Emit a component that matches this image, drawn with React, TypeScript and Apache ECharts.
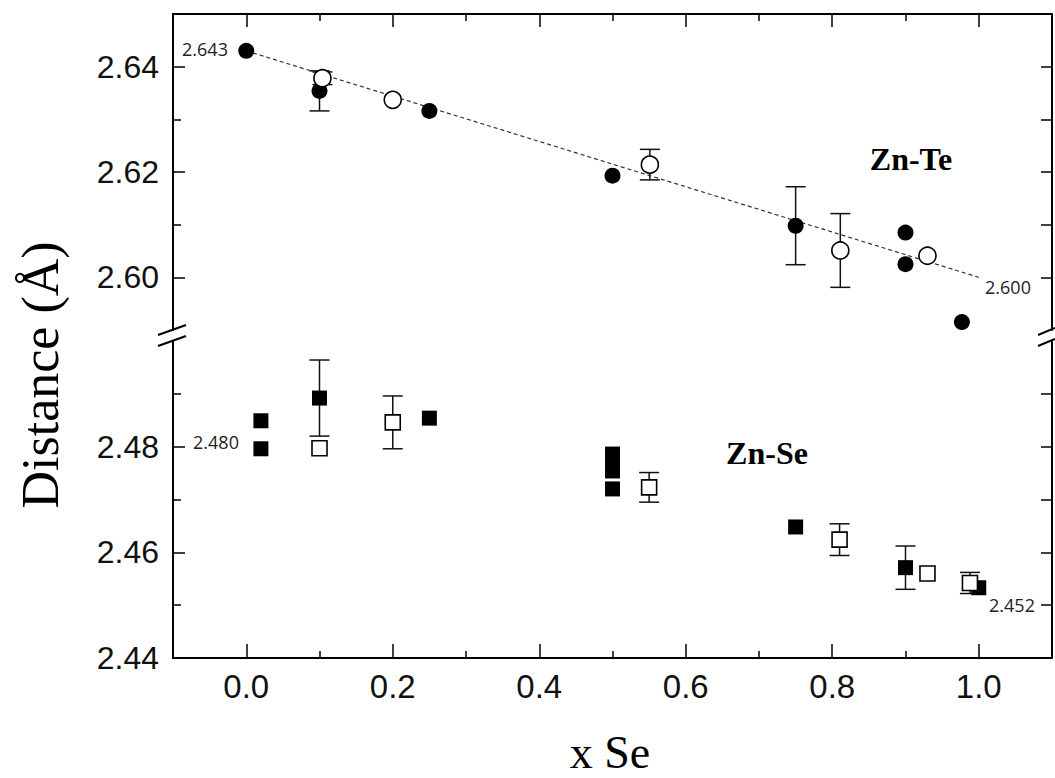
import React, { useEffect, useRef } from "react";
import * as echarts from "echarts";

// ---------- axis ticks ----------
const xTicksMajor = [0, 0.2, 0.4, 0.6, 0.8, 1.0];
const xTicksMinor = [0.1, 0.3, 0.5, 0.7, 0.9];
const teLabelTicks = [2.6, 2.62, 2.64];
const teMinorTicks = [2.61, 2.63];
const teAllTicks = [2.6, 2.61, 2.62, 2.63, 2.64];
const seLabelTicks = [2.44, 2.46, 2.48];
const seMinorTicks = [2.45, 2.47, 2.49];
const seAllTicks = [2.45, 2.46, 2.47, 2.48, 2.49];

// ---------- Zn-Te (upper panel) ----------
const teFilledX = [0, 0.1, 0.25, 0.5, 0.75, 0.9, 0.9, 0.977];
const teFilledY = [2.643, 2.6354, 2.6316, 2.6193, 2.6098, 2.6085, 2.6025, 2.5915];
const teOpenX = [0.104, 0.2, 0.551, 0.811, 0.93];
const teOpenY = [2.6378, 2.6337, 2.6214, 2.6051, 2.6041];
const teFitX = [0, 1.0];
const teFitY = [2.643, 2.6];
const teErrX = [0.1, 0.104, 0.551, 0.75, 0.811];
const teErrY = [2.6354, 2.6378, 2.6214, 2.6098, 2.6051];
const teErrD = [0.0038, 0.0012, 0.0029, 0.0074, 0.007];

// ---------- Zn-Se (lower panel) ----------
const seFilledX = [0.02, 0.02, 0.1, 0.25, 0.5, 0.5, 0.5, 0.5, 0.75, 0.9, 1.0];
const seFilledY = [2.4849, 2.4796, 2.4892, 2.4854, 2.4786, 2.4771, 2.4754, 2.472, 2.4648, 2.4571, 2.4533];
const seOpenX = [0.1, 0.2, 0.55, 0.81, 0.93, 0.988];
const seOpenY = [2.4797, 2.4846, 2.4723, 2.4624, 2.456, 2.4542];
const seErrX = [0.1, 0.2, 0.55, 0.81, 0.9, 0.988];
const seErrY = [2.4892, 2.4846, 2.4723, 2.4624, 2.4571, 2.4542];
const seErrD = [0.0072, 0.005, 0.0028, 0.003, 0.0041, 0.002];

// annotation texts
const annotations = ["2.643", "2.600", "2.480", "2.452"];

const zip = (xs: number[], ys: number[]) => xs.map((x, i) => [x, ys[i]]);

const errorSeries = (xs: number[], ys: number[], ds: number[], ai: number, yi: number) => ({
  type: "custom",
  xAxisIndex: ai,
  yAxisIndex: yi,
  silent: true,
  clip: false,
  z: 1,
  encode: { x: 0, y: [1, 2] },
  data: xs.map((x, i) => [x, ys[i] - ds[i], ys[i] + ds[i]]),
  renderItem: (_p: any, api: any) => {
    const x = api.value(0);
    const lo = api.coord([x, api.value(1)]);
    const hi = api.coord([x, api.value(2)]);
    const w = 10;
    const style = { stroke: "#111", lineWidth: 1.5 };
    return {
      type: "group",
      children: [
        { type: "line", shape: { x1: lo[0], y1: lo[1], x2: hi[0], y2: hi[1] }, style },
        { type: "line", shape: { x1: lo[0] - w, y1: lo[1], x2: lo[0] + w, y2: lo[1] }, style },
        { type: "line", shape: { x1: hi[0] - w, y1: hi[1], x2: hi[0] + w, y2: hi[1] }, style },
      ],
    };
  },
});

const AX = { color: "#000", width: 2 };
const TICK = { color: "#000", width: 1.5 };

const xAxisBase = (grid: number, position: string, ticks: number[], len: number, showLine: boolean, labels: boolean) => ({
  type: "value",
  gridIndex: grid,
  position,
  min: -0.1,
  max: 1.1,
  splitLine: { show: false },
  axisLine: { show: showLine, onZero: false, lineStyle: AX },
  axisTick: { show: true, inside: true, length: len, customValues: ticks, lineStyle: TICK },
  axisLabel: labels
    ? {
        show: true,
        customValues: ticks,
        formatter: (v: number) => v.toFixed(1),
        fontFamily: "Liberation Sans, Arial, sans-serif",
        fontSize: 33,
        color: "#111",
        margin: 12,
      }
    : { show: false },
});

const yAxisBase = (grid: number, position: string, min: number, max: number, ticks: number[], len: number, showLine: boolean, labels: boolean) => ({
  type: "value",
  gridIndex: grid,
  position,
  min,
  max,
  splitLine: { show: false },
  axisLine: { show: showLine, onZero: false, lineStyle: AX },
  axisTick: { show: true, inside: true, length: len, customValues: ticks, lineStyle: TICK },
  axisLabel: labels
    ? {
        show: true,
        customValues: ticks,
        formatter: (v: number) => v.toFixed(2),
        fontFamily: "Liberation Sans, Arial, sans-serif",
        fontSize: 32,
        color: "#111",
        margin: 14,
      }
    : { show: false },
});

const filled = (xs: number[], ys: number[], symbol: string, size: number, ai: number, yi: number) => ({
  type: "scatter",
  xAxisIndex: ai,
  yAxisIndex: yi,
  symbol,
  symbolSize: size,
  z: 3,
  itemStyle: { color: "#000", opacity: 1 },
  data: zip(xs, ys),
});

const open = (xs: number[], ys: number[], symbol: string, size: number, ai: number, yi: number) => ({
  type: "scatter",
  xAxisIndex: ai,
  yAxisIndex: yi,
  symbol,
  symbolSize: size,
  z: 3,
  itemStyle: { color: "#fff", borderColor: "#000", borderWidth: 1.6, opacity: 1 },
  data: zip(xs, ys),
});

const annStyle = { fontFamily: "Open Sans, Noto Sans, sans-serif", fontSize: 18, fill: "#222", align: "center", verticalAlign: "middle" };

export default function App() {
  const ref = useRef<HTMLDivElement>(null);
  useEffect(() => {
    if (!ref.current) return;
    const chart = echarts.init(ref.current, null, { renderer: "svg" });
    const slash = (x1: number, y1: number, x2: number, y2: number) => ({
      type: "line",
      shape: { x1, y1, x2, y2 },
      style: { stroke: "#000", lineWidth: 2 },
      z: 10,
    });
    chart.setOption({
      animation: false,
      backgroundColor: "#fff",
      grid: [
        { left: 173, right: 3, top: 14, height: 316 },
        { left: 173, right: 3, top: 341, height: 317 },
      ],
      xAxis: [
        xAxisBase(0, "top", xTicksMajor, 13, true, false),
        xAxisBase(0, "top", xTicksMinor, 7, false, false),
        xAxisBase(1, "bottom", xTicksMajor, 14, true, true),
        xAxisBase(1, "bottom", xTicksMinor, 7, false, false),
      ],
      yAxis: [
        yAxisBase(0, "left", 2.59, 2.65, teLabelTicks, 12, true, true),
        yAxisBase(0, "left", 2.59, 2.65, teMinorTicks, 8, false, false),
        yAxisBase(0, "right", 2.59, 2.65, teAllTicks, 11, true, false),
        yAxisBase(1, "left", 2.44, 2.5, seLabelTicks, 12, true, true),
        yAxisBase(1, "left", 2.44, 2.5, seMinorTicks, 8, false, false),
        yAxisBase(1, "right", 2.44, 2.5, seAllTicks, 11, true, false),
      ],
      series: [
        {
          type: "line",
          xAxisIndex: 0,
          yAxisIndex: 0,
          symbol: "none",
          z: 1,
          lineStyle: { type: [4, 3], width: 1.2, color: "#333" },
          data: zip(teFitX, teFitY),
        },
        errorSeries(teErrX, teErrY, teErrD, 0, 0),
        errorSeries(seErrX, seErrY, seErrD, 2, 3),
        filled(teFilledX, teFilledY, "circle", 16, 0, 0),
        open(teOpenX, teOpenY, "circle", 17, 0, 0),
        filled(seFilledX, seFilledY, "rect", 15, 2, 3),
        open(seOpenX, seOpenY, "rect", 15, 2, 3),
      ],
      graphic: [
        {
          type: "text",
          x: 40,
          y: 375,
          rotation: Math.PI / 2,
          style: { text: "Distance (Å)", fontFamily: "Liberation Serif, Times New Roman, serif", fontSize: 52, fill: "#000", align: "center", verticalAlign: "middle" },
        },
        {
          type: "text",
          x: 610,
          y: 752,
          style: { text: "x Se", fontFamily: "Liberation Serif, Times New Roman, serif", fontSize: 46, fill: "#000", align: "center", verticalAlign: "middle" },
        },
        {
          type: "text",
          x: 911,
          y: 159,
          style: { text: "Zn-Te", fontFamily: "Liberation Serif, Times New Roman, serif", fontWeight: "bold", fontSize: 32, fill: "#000", align: "center", verticalAlign: "middle" },
        },
        {
          type: "text",
          x: 767,
          y: 453,
          style: { text: "Zn-Se", fontFamily: "Liberation Serif, Times New Roman, serif", fontWeight: "bold", fontSize: 32, fill: "#000", align: "center", verticalAlign: "middle" },
        },
        { type: "text", x: 205, y: 49, z: 5, style: { ...annStyle, text: annotations[0] } },
        { type: "text", x: 1008, y: 287, z: 5, style: { ...annStyle, text: annotations[1] } },
        { type: "text", x: 216, y: 442, z: 5, style: { ...annStyle, text: annotations[2] } },
        { type: "text", x: 1012, y: 605, z: 5, style: { ...annStyle, text: annotations[3] } },
        slash(158, 335, 186, 325),
        slash(158, 346, 186, 336),
        slash(1038, 335, 1055, 328),
        slash(1038, 346, 1055, 339),
      ],
    });
    return () => chart.dispose();
  }, []);
  return (
    <div
      ref={ref}
      style={{ position: "fixed", left: 0, top: 0, width: "1055px", height: "778px", background: "#fff" }}
    />
  );
}
